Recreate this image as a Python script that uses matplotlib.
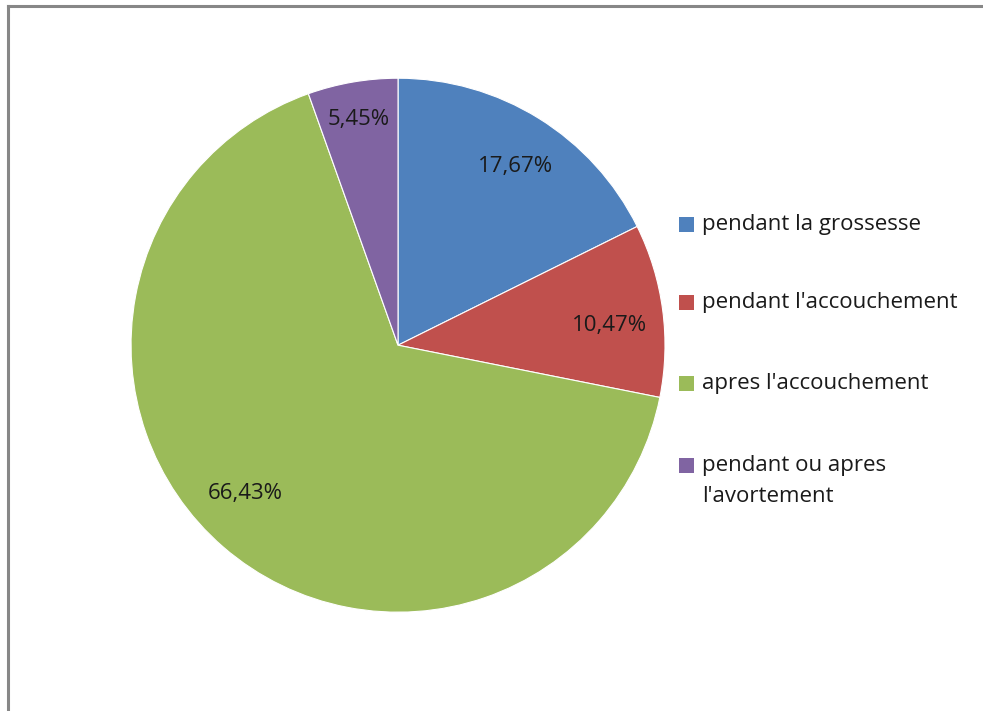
import numpy as np
import matplotlib
matplotlib.use("Agg")
import matplotlib.pyplot as plt
from matplotlib.lines import Line2D

# data
categories = ["pendant la grossesse", "pendant l'accouchement",
              "apres l'accouchement", "pendant ou apres\nl'avortement"]
values = [17.67, 10.47, 66.43, 5.45]
pct_labels = ["17,67%", "10,47%", "66,43%", "5,45%"]
colors = ["#4F81BD", "#C0504D", "#9BBB59", "#8064A2"]

plt.rcParams["font.family"] = ["Open Sans", "DejaVu Sans"]
FS = 16

fig = plt.figure(figsize=(9.83, 7.11), dpi=100)

# chart area frame (only top and left edges are visible in the crop)
fig.add_artist(Line2D([0.008, 0.008], [0.0, 0.991], color="#878787", lw=2.2,
                      transform=fig.transFigure))
fig.add_artist(Line2D([0.008, 1.0], [0.991, 0.991], color="#878787", lw=2.2,
                      transform=fig.transFigure))

ax = fig.add_axes([0.1333, 0.139, 0.5432, 0.751])
wedges, _ = ax.pie(values, colors=colors, startangle=90, counterclock=False,
                   wedgeprops=dict(edgecolor="white", linewidth=0.8))
ax.set_xlim(-1, 1)
ax.set_ylim(-1, 1)
ax.set_aspect("equal")

# percentage labels: radial distance and small angular nudge per wedge
dists = [0.806, 0.798, 0.792, 0.864]
nudges = [-1.2, -1.6, -5.4, -0.1]
half_digit = 7.5 / 267
for w, lab, d, nd in zip(wedges, pct_labels, dists, nudges):
    ang = np.deg2rad((w.theta1 + w.theta2) / 2 + nd)
    ax.text(d * np.cos(ang), d * np.sin(ang) - half_digit, lab, ha="center",
            va="baseline", fontsize=FS, color="#1a1a1a")

# legend drawn by hand to mimic the spreadsheet layout
rows_y = [224, 302, 384, 466]
line_step = 31
for w, name, y in zip(wedges, categories, rows_y):
    fy = 1 - y / 711
    fig.patches.append(plt.Rectangle((679 / 983, fy - 7.5 / 711), 15 / 983, 15 / 711,
                                     facecolor=w.get_facecolor(), edgecolor="none",
                                     transform=fig.transFigure))
    for k, part in enumerate(name.split("\n")):
        fig.text(702 / 983, 1 - (y + k * line_step) / 711, part, ha="left",
                 va="center", fontsize=FS, color="#1a1a1a",
                 transform=fig.transFigure)

fig.savefig("out.png", dpi=100)
